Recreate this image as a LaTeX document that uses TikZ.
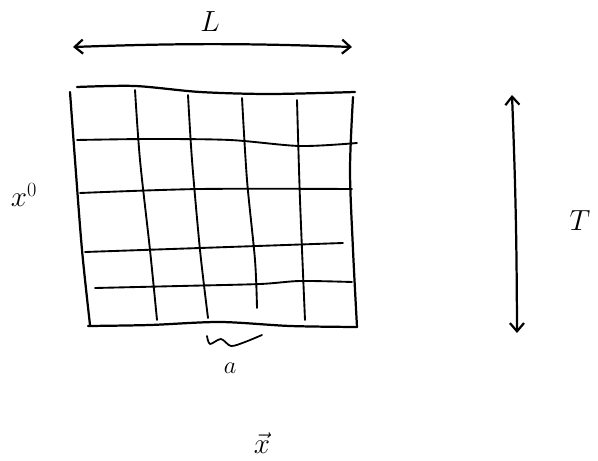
\documentclass[tikz,border=0pt]{standalone}
\usepackage{tikz}
\usetikzlibrary{arrows.meta, positioning}

\begin{document}
\begin{tikzpicture}[
  x=0.03cm, y=-0.03cm,
  pen/.style={line width=1.9pt, line cap=round, line join=round},
  gridline/.style={pen, line width=1.6pt},
  lbl/.style={inner sep=0pt, font=\fontsize{#1}{#1}\selectfont},
  >={Straight Barb[length=7pt, width=12pt]}
]
  \useasboundingbox (0,0) rectangle (598,461);

  % outer frame of the lattice
  \draw[pen] plot[smooth] coordinates {(77,87) (135,86) (200,92) (270,94) (355,92)};
  \draw[pen] plot[smooth] coordinates {(88,326) (150,325) (220,322) (290,326) (357,327)};
  \draw[pen] plot[smooth] coordinates {(70,92) (75,160) (82,250) (90,325)};
  \draw[pen] plot[smooth] coordinates {(353,97) (350,170) (353,250) (357,327)};

  % inner lines
  \draw[gridline] plot[smooth] coordinates {(77,140) (150,139) (230,140) (300,146) (357,143)};
  \draw[gridline] plot[smooth] coordinates {(80,193) (200,189) (352,189)};
  \draw[gridline] plot[smooth] coordinates {(85,252) (200,248) (343,243)};
  \draw[gridline] plot[smooth] coordinates {(95,288) (180,286) (260,284) (300,281) (352,282)};
  \draw[gridline] plot[smooth] coordinates {(135,90) (140,160) (150,250) (157,320)};
  \draw[gridline] plot[smooth] coordinates {(188,95) (192,160) (200,250) (208,318)};
  \draw[gridline] plot[smooth] coordinates {(242,98) (247,180) (255,260) (257,308)};
  \draw[gridline] plot[smooth] coordinates {(297,100) (300,200) (305,320)};

  % extents
  \coordinate (west) at (73,47);
  \coordinate (east) at (352,47);
  \coordinate (north) at (512,95);
  \coordinate (south) at (517,333);
  \draw[pen, <->] (west) to[bend left=2] (east);
  \draw[pen, <->] (north) to[bend left=1] (south);
  \node[lbl=30] (len) at (210,22) {$L$};
  \node[lbl=36] (time) at (580,221) {$T$};

  % spacing and labels
  \node[lbl=24] (xzero) at (24,195) {$x^0$};
  \draw[pen, line width=1.5pt] plot[smooth] coordinates
    {(207,336) (210,344) (221,339) (231,346) (245,342) (262,335)};
  \node[lbl=22] (spacing) at (230,368) {$a$};
  \node[lbl=24] (pos) at (262,443) {$\vec{x}$};
\end{tikzpicture}
\end{document}
